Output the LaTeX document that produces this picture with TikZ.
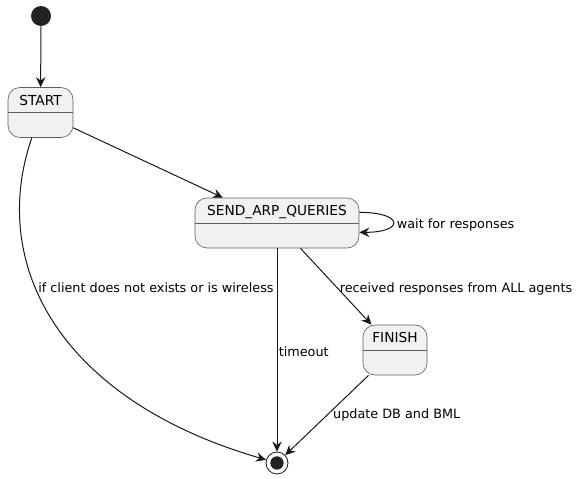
\documentclass[tikz,border=0pt]{standalone}
\usepackage{fontspec}
\setmainfont{DejaVu Sans}
\usetikzlibrary{arrows.meta}
\definecolor{stfill}{HTML}{F1F1F1}
\definecolor{stline}{HTML}{5F5F5F}
\definecolor{ink}{HTML}{181818}
\definecolor{dot}{HTML}{222222}

\tikzset{
  state/.style={draw=stline, fill=stfill, rounded corners=9pt, minimum height=37.5pt, inner sep=0pt, line width=0.5pt},
  title/.style={anchor=base, inner sep=0pt, font=\fontsize{10.3}{12}\selectfont},
  lbl/.style={font=\fontsize{9.6}{11}\selectfont, inner sep=2.5pt, yshift=-1.6pt},
  trans/.style={draw=ink, line width=0.75pt, -{Stealth[length=7.5pt,width=7pt,inset=2.5pt]}},
  initst/.style={circle, fill=dot, minimum size=15pt, inner sep=0pt},
  finalst/.style={circle, draw=ink, line width=0.6pt, minimum size=16.5pt, inner sep=0pt}
}

\begin{document}
\begin{tikzpicture}[x=0.75pt,y=-0.75pt]
\useasboundingbox (0,0) rectangle (583,479);
% states
\node[initst] (init) at (41,16) {};
\node[state, minimum width=48.75pt] (start) at (40.5,112.5) {};
\node[state, minimum width=123pt] (send) at (277,223) {};
\node[state, minimum width=48pt] (finish) at (395,350) {};
\node[finalst] (final) at (277,463) {};
\fill[dot] (final) circle (5pt);
\foreach \s/\t in {start/START, send/SEND\_ARP\_QUERIES, finish/FINISH}{
  \draw[stline, line width=0.5pt] (\s.west) -- (\s.east);
  \node[title] (\s-title) at ([yshift=5.6pt]\s.center) {\t};
}
% transitions
\draw[trans] (init) -- (start);
\draw[trans] (start) -- (send);
\draw[trans] (start) .. controls (-12,265) and (60,400) .. node[lbl, pos=0.39, anchor=west] (l-wireless) {if client does not exists or is wireless} (final);
\draw[trans] (send) -- node[lbl, pos=0.5, anchor=west, inner sep=1pt] (l-timeout) {timeout} (final);
\draw[trans] (send) -- node[lbl, pos=0.5, anchor=west] (l-received) {received responses from ALL agents} (finish);
\draw[trans] (finish) -- node[lbl, pos=0.47, anchor=west] (l-update) {update DB and BML} (final);
\draw[trans] ([yshift=8pt]send.east) .. controls +(45,0) and +(45,0) .. node[lbl, right] (l-wait) {wait for responses} ([yshift=-7pt]send.east);
\end{tikzpicture}
\end{document}
